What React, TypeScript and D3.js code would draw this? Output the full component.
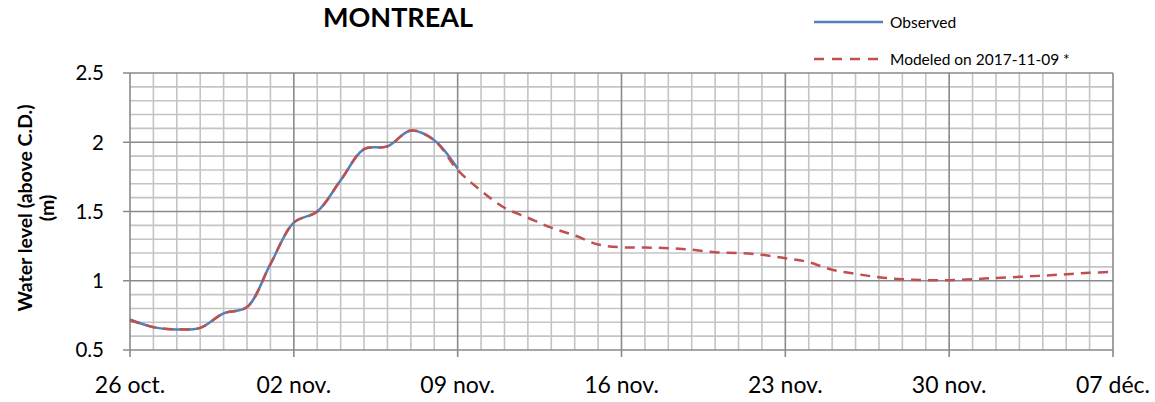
import React from 'react';
import * as d3 from 'd3';

// day offsets from 26 oct. 2017
const observedDays = [0, 1, 2, 3, 4, 5, 6, 7, 8, 9, 10, 11, 12, 13, 14];
const observedLevels = [0.72, 0.665, 0.648, 0.66, 0.765, 0.81, 1.12, 1.42, 1.5, 1.725, 1.95, 1.97, 2.085, 2.015, 1.81];

const modeledDays = [0, 1, 2, 3, 4, 5, 6, 7, 8, 9, 10, 11, 12, 13, 14, 15, 16, 17, 18, 19, 20, 21, 22, 23, 24, 25, 26, 27, 28, 29, 30, 31, 32, 33, 34, 35, 36, 37, 38, 39, 40, 41, 42];
const modeledLevels = [0.715, 0.665, 0.65, 0.66, 0.765, 0.81, 1.12, 1.42, 1.5, 1.725, 1.95, 1.97, 2.085, 2.015, 1.8,
  1.65, 1.527, 1.455, 1.383, 1.327, 1.262, 1.242, 1.24, 1.235, 1.224, 1.206, 1.2, 1.187, 1.163, 1.134,
  1.079, 1.05, 1.025, 1.011, 1.004, 1.004, 1.011, 1.02, 1.028, 1.037, 1.047, 1.057, 1.064];

const xTickLabels = ['26 oct.', '02 nov.', '09 nov.', '16 nov.', '23 nov.', '30 nov.', '07 déc.'];
const yTicks = [0.5, 1, 1.5, 2, 2.5];

const W = 1155, H = 402;
const m = { left: 130, right: 42, top: 73, bottom: 52 };
const FONT = 'Lato, "Open Sans", sans-serif';

export default function App() {
  const x = d3.scaleLinear().domain([0, 42]).range([m.left, W - m.right]);
  const y = d3.scaleLinear().domain([0.5, 2.5]).range([H - m.bottom, m.top]);

  const line = d3.line<[number, number]>()
    .x(d => x(d[0])).y(d => y(d[1]))
    .curve(d3.curveCatmullRom.alpha(0.5));

  const obs = observedDays.map((d, i) => [d, observedLevels[i]] as [number, number]);
  const mod = modeledDays.map((d, i) => [d, modeledLevels[i]] as [number, number]);

  const minorX = d3.range(0, 43);
  const minorY = d3.range(5, 26).map(v => v / 10);
  const x0 = x(0), x1 = x(42), y0 = y(0.5), y1 = y(2.5);

  return (
    <svg width={W} height={H} style={{ position: 'absolute', left: 0, top: 0, background: '#fff' }}>
      <g>
        {minorX.filter(d => d % 7 !== 0).map(d => (
          <line key={'vx' + d} x1={x(d)} x2={x(d)} y1={y1} y2={y0} stroke="#c4c4c4" strokeWidth={1.6} />
        ))}
        {minorY.filter(v => Math.round(v * 10) % 5 !== 0).map(v => (
          <line key={'hy' + v} x1={x0} x2={x1} y1={y(v)} y2={y(v)} stroke="#c4c4c4" strokeWidth={1.6} />
        ))}
        {minorX.filter(d => d % 7 === 0).map(d => (
          <line key={'mx' + d} x1={x(d)} x2={x(d)} y1={y1} y2={y0 + 7} stroke="#8a8a8a" strokeWidth={1.6} />
        ))}
        {yTicks.map(v => (
          <line key={'my' + v} x1={x0 - 7} x2={x1} y1={y(v)} y2={y(v)} stroke="#8a8a8a" strokeWidth={1.6} />
        ))}
      </g>

      <path d={line(obs) ?? ''} fill="none" stroke="#4F81BD" strokeWidth={2.5} />
      <path d={line(mod) ?? ''} fill="none" stroke="#C0504D" strokeWidth={2.5} strokeDasharray="10,7" />

      {yTicks.map(v => (
        <text key={'yt' + v} x={104} y={y(v)} dy="0.36em" textAnchor="end"
          fontFamily={FONT} fontSize={20.5} fill="#000">{v}</text>
      ))}
      {xTickLabels.map((t, i) => (
        <text key={'xt' + i} x={x(i * 7)} y={393} textAnchor="middle"
          fontFamily={FONT} fontSize={23} fill="#000">{t}</text>
      ))}

      <text transform={`translate(32,208) rotate(-90)`} textAnchor="middle"
        fontFamily={FONT} fontSize={19.5} fontWeight="bold">Water level (above C.D.)</text>
      <text transform={`translate(54,208) rotate(-90)`} textAnchor="middle"
        fontFamily={FONT} fontSize={19.5} fontWeight="bold">(m)</text>

      <text x={398} y={27} textAnchor="middle" fontFamily={FONT} fontSize={27} fontWeight="bold">MONTREAL</text>

      <line x1={814} x2={883} y1={22} y2={22} stroke="#4F81BD" strokeWidth={2.5} />
      <text x={890} y={22} dy="0.36em" fontFamily={FONT} fontSize={15.5}>Observed</text>
      <line x1={814} x2={880} y1={59} y2={59} stroke="#C0504D" strokeWidth={2.5} strokeDasharray="10,8" />
      <text x={890} y={59} dy="0.36em" fontFamily={FONT} fontSize={15.5}>Modeled on 2017-11-09 *</text>
    </svg>
  );
}
